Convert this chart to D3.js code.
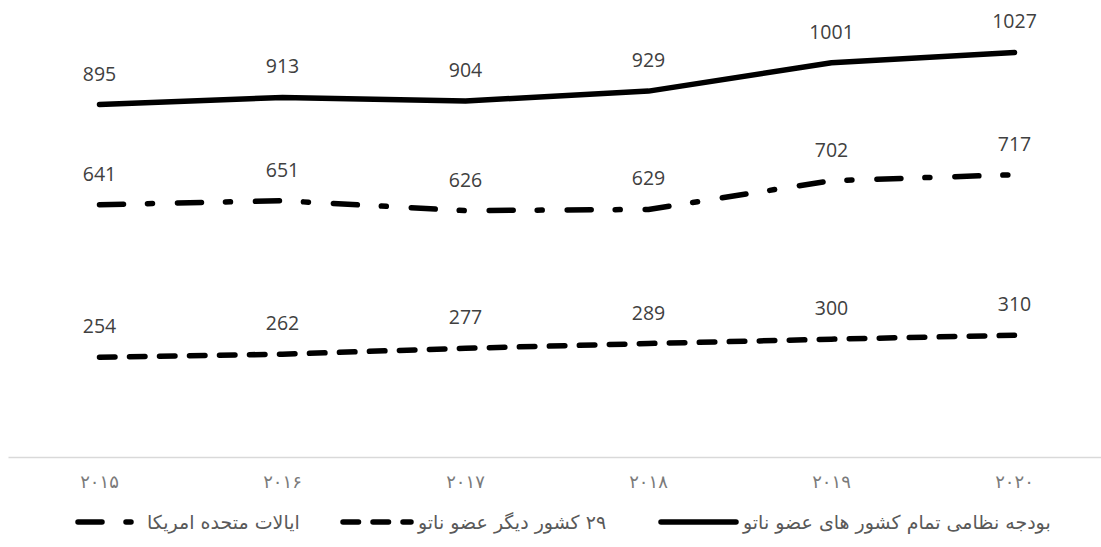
<!DOCTYPE html>
<html><head><meta charset="utf-8">
<script src="https://cdn.jsdelivr.net/npm/d3@7"></script>
<style>
html,body{margin:0;padding:0;background:#fff;}
svg{display:block;}
</style></head>
<body>
<svg id="chart" width="1101" height="547"></svg>
<script>
const years = ["2015","2016","2017","2018","2019","2020"];
const yearLabels = ["۲۰۱۵","۲۰۱۶","۲۰۱۷","۲۰۱۸","۲۰۱۹","۲۰۲۰"];
const totalNato = [895, 913, 904, 929, 1001, 1027];
const usa = [641, 651, 626, 629, 702, 717];
const other29 = [254, 262, 277, 289, 300, 310];
const seriesNames = ["بودجه نظامی تمام کشور های عضو ناتو", "۲۹ کشور دیگر عضو ناتو", "ایالات متحده امریکا"];

const series = [
  {name: seriesNames[0], values: totalNato, dash: null, lx1: 661, lx2: 736},
  {name: seriesNames[1], values: other29, dash: "15.5 14.5", lx1: 343, lx2: 411},
  {name: seriesNames[2], values: usa, dash: "24 24 5 25", lx1: 78, lx2: 140}
];

const svg = d3.select("#chart");
const x = d3.scaleBand().domain(years).range([8, 1106]);
const y = d3.scaleLinear().domain([0, 1160]).range([457.5, 0]);

// axis
const xAxis = d3.axisBottom(x).tickSize(0).tickFormat((d,i)=>yearLabels[i]);
const ax = svg.append("g").attr("transform","translate(0,457)").call(xAxis);
ax.select(".domain").attr("stroke","#d9d9d9").attr("stroke-width",1.5);
ax.selectAll("text").attr("dy",null).attr("y",31)
  .attr("font-family","'DejaVu Sans',sans-serif")
  .attr("font-size",18).attr("letter-spacing","7px").attr("fill","#7a7a7a");

const line = d3.line().x((d,i)=>x(years[i])+x.bandwidth()/2).y(d=>y(d));

series.forEach(s=>{
  svg.append("path").datum(s.values).attr("d",line)
    .attr("fill","none").attr("stroke","#000").attr("stroke-width",5.5)
    .attr("stroke-linecap","round").attr("stroke-linejoin","round")
    .attr("stroke-dasharray",s.dash);
  svg.append("g").selectAll("text").data(s.values).join("text")
    .attr("x",(d,i)=>x(years[i])+x.bandwidth()/2)
    .attr("y",d=>y(d)-24)
    .attr("text-anchor","middle")
    .attr("font-family","'Open Sans',sans-serif").attr("font-size",19.5)
    .attr("fill","#404040").text(d=>d);
});

// legend
const lg = svg.append("g");
const ly = 522;
series.forEach(s=>{
  lg.append("line").attr("x1",s.lx1).attr("x2",s.lx2).attr("y1",ly).attr("y2",ly)
    .attr("stroke","#000").attr("stroke-width",5.5).attr("stroke-linecap","round")
    .attr("stroke-dasharray",s.dash);
  lg.append("text").attr("x",s.lx2+7).attr("y",ly+7)
    .attr("direction","rtl").attr("text-anchor","end")
    .attr("font-family","'DejaVu Sans',sans-serif")
    .attr("font-size",19).attr("fill","#595959").text(s.name);
});
</script>
</body></html>
